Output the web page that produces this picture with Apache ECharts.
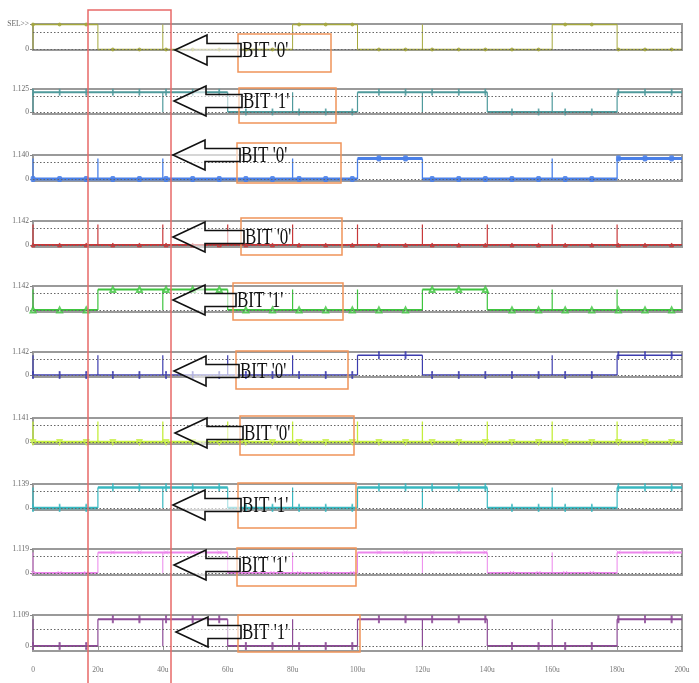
<!DOCTYPE html>
<html>
<head>
<meta charset="utf-8">
<title>BIT waveforms</title>
<script src="https://cdn.jsdelivr.net/npm/echarts@6/dist/echarts.min.js"></script>
<style>
  html, body { margin: 0; padding: 0; background: #fff; }
  #chart { width: 699px; height: 683px; }
</style>
</head>
<body>
<div id="chart"></div>
<script>
// time axis (u = micro seconds)
const timeTicks = [0, 20, 40, 60, 80, 100, 120, 140, 160, 180, 200]
const timeLabels = ['0', '20u', '40u', '60u', '80u', '100u', '120u', '140u', '160u', '180u', '200u']
const slotStarts = [0, 20, 40, 60, 80, 100, 120, 140, 160, 180]
const slotEnds = [20, 40, 60, 80, 100, 120, 140, 160, 180, 200]

// logic level of every signal in each 20u slot
const bitsRow1 = [1, 0, 0, 0, 1, 0, 0, 0, 1, 0]
const bitsRow2 = [1, 1, 1, 0, 0, 1, 1, 0, 0, 1]
const bitsRow3 = [0, 0, 0, 0, 0, 1, 0, 0, 0, 1]
const bitsRow4 = [0, 0, 0, 0, 0, 0, 0, 0, 0, 0]
const bitsRow5 = [0, 1, 1, 0, 0, 0, 1, 0, 0, 0]
const bitsRow6 = [0, 0, 0, 0, 0, 1, 0, 0, 0, 1]
const bitsRow7 = [0, 0, 0, 0, 0, 0, 0, 0, 0, 0]
const bitsRow8 = [0, 1, 1, 0, 0, 1, 1, 0, 0, 1]
const bitsRow9 = [0, 1, 1, 0, 0, 1, 1, 0, 0, 1]
const bitsRow10 = [0, 1, 1, 0, 0, 1, 1, 0, 0, 1]

// slot starts where a glitch edge shows although the level stays
const glitchRow1 = [40, 120]
const glitchRow2 = [40, 80, 120, 160]
const glitchRow3 = [0, 20, 40, 80, 160]
const glitchRow4 = [0, 20, 40, 60, 80, 100, 120, 140, 160, 180]
const glitchRow5 = [0, 40, 80, 100, 160, 180]
const glitchRow6 = [0, 20, 40, 60, 80, 160]
const glitchRow7 = [0, 20, 40, 60, 80, 100, 120, 140, 160, 180]
const glitchRow8 = [0, 40, 80, 120, 160]
const glitchRow9 = [0, 40, 80, 120, 160]
const glitchRow10 = [0, 40, 80, 120, 160]

// sample markers along every trace
const markerTimes = [0, 8.2, 16.4, 24.6, 32.8, 41, 49.2, 57.4, 65.6, 73.8, 82, 90.2, 98.4,
  106.6, 114.8, 123, 131.2, 139.4, 147.6, 155.8, 164, 172.2, 180.4, 188.6, 196.8]

// y axis top labels
const topLabels = ['SEL>>', '1.125', '1.140', '1.142', '1.142', '1.142', '1.141', '1.139', '1.119', '1.109']
const bitTexts = ["BIT '0'", "BIT '1'", "BIT '0'", "BIT '0'", "BIT '1'", "BIT '0'", "BIT '0'", "BIT '1'", "BIT '1'", "BIT '1'"]

const allBits = [bitsRow1, bitsRow2, bitsRow3, bitsRow4, bitsRow5, bitsRow6, bitsRow7, bitsRow8, bitsRow9, bitsRow10]
const allGlitches = [glitchRow1, glitchRow2, glitchRow3, glitchRow4, glitchRow5, glitchRow6, glitchRow7, glitchRow8, glitchRow9, glitchRow10]

// layout / style per panel
const panelTop = [24, 89, 155, 221, 286, 352, 418, 484, 549, 615]
const panelHeight = [26, 25, 26, 26, 26, 25, 26, 26, 26, 36]
const yMinArr = [-0.02, -0.1, -0.1, -0.1, -0.1, -0.1, -0.1, -0.1, -0.1, -0.19]
const yMaxArr = [1.02, 1.165, 1.165, 1.165, 1.165, 1.165, 1.165, 1.165, 1.165, 1.162]
const dottedLevel = [0.68, 0.8, 0.8, 0.8, 0.8, 0.8, 0.8, 0.8, 0.8, 0.62]
const colors = ['#a5a83c', '#4f9a9c', '#4a80e8', '#c8383a', '#3ec43e', '#3c3cae', '#c4ee3c', '#38b8c0', '#ec86ec', '#8c4a96']
const lineWidths = [1.5, 2, 3, 2, 2, 1.5, 2.5, 2.5, 2, 2]
const edgeWidths = [1, 1.2, 1.3, 1.2, 1.2, 1.2, 1.3, 1.2, 1, 1.2]
const symbols = ['circle', 'rect', 'roundRect', 'triangle', 'emptyTriangle', 'rect', 'emptyTriangle', 'rect',
  'path://M0,0L10,10M10,0L0,10', 'rect']
const symbolSizes = [3, [1.2, 5], [4, 5], 4, 5, [1.3, 6], 4, [1.2, 6], 4, [1.5, 6]]
const symbolRotates = [0, 0, 0, 0, 0, 0, 180, 0, 0, 0]

// annotation layout: arrow tip and orange box [x0, y0, x1, y1]
const arrowTips = [[175, 50], [174, 101], [173, 155], [173, 237], [173, 300], [174, 371], [175, 433], [173, 505], [174, 565], [176, 632]]
const boxes = [[238, 34, 331, 72], [239, 88, 336, 123], [237, 143, 341, 183], [241, 218, 342, 255], [233, 283, 343, 320],
  [236, 351, 348, 389], [240, 416, 354, 455], [238, 483, 356, 528], [237, 548, 356, 586], [238, 615, 360, 652]]

// horizontal level segments, broken between slots
function levelData(bits) {
  const pts = []
  bits.forEach((b, k) => {
    pts.push([slotStarts[k], b], [slotEnds[k], b], [slotEnds[k], null])
  })
  return pts
}

// vertical edges: real transitions plus glitches
function edgeData(bits, glitch) {
  const pts = []
  let prev = 0
  bits.forEach((b, k) => {
    const t = slotStarts[k]
    if (b !== prev || glitch.includes(t)) {
      pts.push([t, 0], [t, 1], [t, null])
    }
    prev = b
  })
  return pts
}

function markerData(bits) {
  return markerTimes.map((t) => {
    const k = Math.min(bits.length - 1, Math.floor(t / 20))
    return [t, bits[k]]
  })
}

const chart = echarts.init(document.getElementById('chart'))

const grids = []
const xAxes = []
const yAxes = []
const series = []

allBits.forEach((bits, i) => {
  const last = i === allBits.length - 1
  grids.push({
    left: 33,
    right: 17,
    top: panelTop[i],
    height: panelHeight[i],
    show: true,
    borderColor: '#9a9a9a',
    borderWidth: 2,
  })
  xAxes.push({
    gridIndex: i,
    type: 'value',
    min: 0,
    max: 200,
    interval: 20,
    axisLine: { show: false },
    splitLine: { show: false },
    axisTick: { show: last, length: 4, lineStyle: { color: '#999' } },
    axisLabel: {
      show: last,
      margin: 15,
      fontSize: 7.5,
      color: '#777',
      fontFamily: 'Liberation Serif',
      formatter: v => timeLabels[timeTicks.indexOf(v)],
    },
  })
  yAxes.push({
    gridIndex: i,
    type: 'value',
    min: yMinArr[i],
    max: yMaxArr[i],
    axisLine: { show: false },
    splitLine: { show: false },
    axisTick: { show: true, customValues: [0, yMaxArr[i]], length: 3, lineStyle: { color: '#888' } },
    axisLabel: {
      customValues: [0, yMaxArr[i]],
      margin: 4,
      fontSize: 7.5,
      color: '#666',
      fontFamily: 'Liberation Serif',
      formatter: v => (v === 0 ? '0' : topLabels[i]),
    },
  })
  // dotted guide lines
  series.push({
    type: 'line',
    xAxisIndex: i,
    yAxisIndex: i,
    data: [],
    z: 1,
    markLine: {
      silent: true,
      symbol: 'none',
      label: { show: false },
      lineStyle: { type: [1.5, 2], color: '#666', width: 1 },
      data: [{ yAxis: dottedLevel[i] }, { yAxis: 0 }],
    },
  })
  series.push({
    type: 'line',
    xAxisIndex: i,
    yAxisIndex: i,
    data: edgeData(bits, allGlitches[i]),
    showSymbol: false,
    connectNulls: false,
    z: 2,
    lineStyle: { color: colors[i], width: edgeWidths[i] },
  })
  series.push({
    type: 'line',
    xAxisIndex: i,
    yAxisIndex: i,
    data: levelData(bits),
    showSymbol: false,
    connectNulls: false,
    z: 3,
    lineStyle: { color: colors[i], width: lineWidths[i] },
  })
  series.push({
    type: 'scatter',
    xAxisIndex: i,
    yAxisIndex: i,
    data: markerData(bits),
    symbol: symbols[i],
    symbolSize: symbolSizes[i],
    symbolRotate: symbolRotates[i],
    z: 4,
    itemStyle: { color: colors[i], borderColor: colors[i], borderWidth: 1 },
  })
})

const graphics = [
  {
    type: 'rect',
    shape: { x: 88, y: 10, width: 83, height: 690 },
    style: { fill: 'none', stroke: '#e86a68', lineWidth: 1.5 },
    z: 10,
  },
]
arrowTips.forEach(([tx, ty], i) => {
  const b = boxes[i]
  graphics.push({
    type: 'rect',
    shape: { x: b[0], y: b[1], width: b[2] - b[0], height: b[3] - b[1] },
    style: { fill: 'none', stroke: '#f0945a', lineWidth: 1.5 },
    z: 10,
  })
  graphics.push({
    type: 'polygon',
    shape: {
      points: [
        [tx, ty], [tx + 32, ty - 15], [tx + 32, ty - 6.5], [b[0] + 3, ty - 6.5],
        [b[0] + 3, ty + 6.5], [tx + 32, ty + 6.5], [tx + 32, ty + 15],
      ],
    },
    style: { fill: 'rgba(255,255,255,0.6)', stroke: '#111', lineWidth: 1.6 },
    z: 11,
  })
  graphics.push({
    type: 'text',
    x: b[0] + 4,
    y: ty + 1,
    scaleY: 1.4,
    style: {
      text: bitTexts[i],
      font: '17px "Liberation Serif"',
      fill: '#111',
      textVerticalAlign: 'middle',
    },
    z: 12,
  })
})

chart.setOption({
  backgroundColor: '#fff',
  animation: false,
  grid: grids,
  xAxis: xAxes,
  yAxis: yAxes,
  series: series,
  graphic: graphics,
})
</script>
</body>
</html>
